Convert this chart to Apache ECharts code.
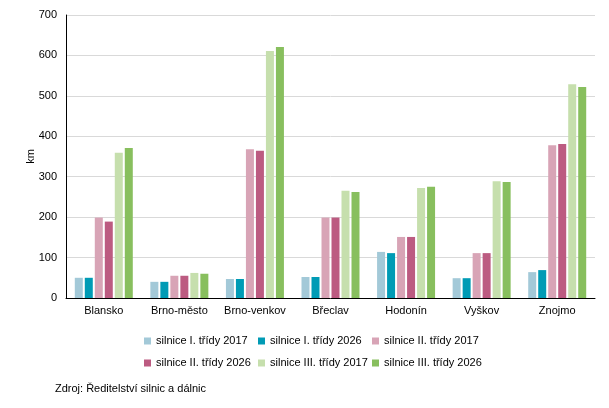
<!DOCTYPE html>
<html>
<head>
<meta charset="utf-8">
<script src="https://cdn.jsdelivr.net/npm/echarts@6/dist/echarts.min.js"></script>
<style>
    html, body { margin: 0; padding: 0; background: #fff; }
    #chart { width: 609px; height: 408px; }
</style>
</head>
<body>
<div id="chart"></div>
<script>
var categories = ['Blansko', 'Brno-město', 'Brno-venkov', 'Břeclav', 'Hodonín', 'Vyškov', 'Znojmo'];
var seriesNames = ['silnice I. třídy 2017', 'silnice I. třídy 2026', 'silnice II. třídy 2017',
    'silnice II. třídy 2026', 'silnice III. třídy 2017', 'silnice III. třídy 2026'];
var roadsI2017 = [50, 40, 47, 52, 114, 49, 64];
var roadsI2026 = [50, 40, 47, 52, 111, 49, 69];
var roadsII2017 = [199, 55, 368, 199, 151, 111, 378];
var roadsII2026 = [189, 55, 364, 199, 151, 111, 381];
var roadsIII2017 = [359, 62, 611, 265, 272, 289, 529];
var roadsIII2026 = [371, 60, 621, 262, 275, 287, 522];
var yTicks = [0, 100, 200, 300, 400, 500, 600, 700];
var sourceText = 'Zdroj: Ředitelství silnic a dálnic';

var colors = ['#a3c9d8', '#009bb5', '#d8a4b6', '#bc5b81', '#c6dfad', '#88bf5e'];
var font = 'Liberation Sans, Arial, sans-serif';

(function () {
    var chart = echarts.init(document.getElementById('chart'));
    var values = [roadsI2017, roadsI2026, roadsII2017, roadsII2026, roadsIII2017, roadsIII2026];
    var series = [];
    for (var i = 0; i < values.length; i++) {
        series.push({
            name: seriesNames[i],
            type: 'bar',
            data: values[i],
            barWidth: 8,
            barGap: '25%',
            itemStyle: { color: colors[i] }
        });
    }
    chart.setOption({
        animation: false,
        color: colors,
        textStyle: { fontFamily: font },
        grid: { left: 66, right: 14, top: 15, bottom: 110 },
        legend: {
            left: 139,
            top: 327,
            width: 350,
            itemWidth: 7,
            itemHeight: 7,
            itemGap: 4,
            itemTextGap: 3,
            icon: 'rect',
            textStyle: { fontSize: 11, color: '#000', width: 98, lineHeight: 18, fontFamily: font },
            data: seriesNames
        },
        xAxis: {
            type: 'category',
            data: categories,
            axisLine: { lineStyle: { color: '#000', width: 1 } },
            axisTick: { show: false },
            axisLabel: { color: '#000', fontSize: 11, margin: 7, interval: 0, fontFamily: font }
        },
        yAxis: {
            type: 'value',
            min: yTicks[0],
            max: yTicks[yTicks.length - 1],
            interval: 100,
            name: 'km',
            nameLocation: 'middle',
            nameRotate: 90,
            nameGap: 30,
            nameMoveOverlap: false,
            nameTextStyle: { color: '#000', fontSize: 11, fontFamily: font },
            axisLine: { show: true, lineStyle: { color: '#000', width: 1 } },
            axisTick: { show: false },
            axisLabel: { color: '#000', fontSize: 11, margin: 9, fontFamily: font },
            splitLine: { lineStyle: { color: '#d9d9d9', width: 1 } }
        },
        graphic: [{
            type: 'text',
            left: 55,
            top: 383,
            style: { text: sourceText, fill: '#000', font: '11px ' + font }
        }],
        series: series
    });
})();
</script>
</body>
</html>
